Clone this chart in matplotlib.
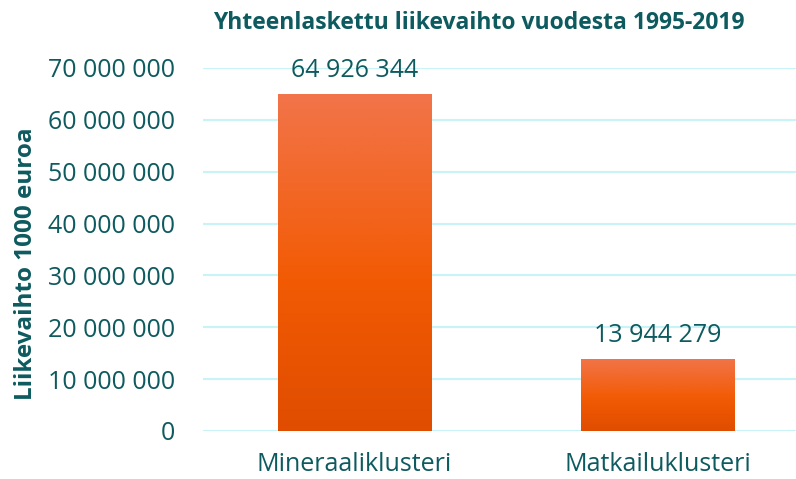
import numpy as np
import matplotlib
matplotlib.use("Agg")
import matplotlib.pyplot as plt
from matplotlib.colors import LinearSegmentedColormap

categories = ["Mineraaliklusteri", "Matkailuklusteri"]
values = [64926344, 13944279]
value_labels = ["64 926 344", "13 944 279"]
yticks = [0, 10000000, 20000000, 30000000, 40000000, 50000000, 60000000, 70000000]
ytick_labels = ["0", "10 000 000", "20 000 000", "30 000 000", "40 000 000",
                "50 000 000", "60 000 000", "70 000 000"]
title = "Yhteenlaskettu liikevaihto vuodesta 1995-2019"
ylabel = "Liikevaihto 1000 euroa"

plt.rcParams['font.family'] = ['Open Sans', 'DejaVu Sans']
TEXT = "#0D5A5F"
GRID = "#C8F3F7"

fig = plt.figure(figsize=(7.96, 4.79), dpi=100)
W, H = 796, 479
ax = fig.add_axes([203 / W, (H - 431) / H, (796 - 203) / W, (431 - 68) / H])

x = np.arange(len(categories))
bars = ax.bar(x, values, width=0.505, color="none", edgecolor="none", zorder=3)

cmap = LinearSegmentedColormap.from_list(
    "g", [(0.0, "#E04D00"), (0.45, "#F25B04"), (1.0, "#F2744A")])
grad = np.linspace(0, 1, 256).reshape(-1, 1)
for rect in bars:
    x0, y0 = rect.get_x(), rect.get_y()
    w, h = rect.get_width(), rect.get_height()
    im = ax.imshow(grad, cmap=cmap, origin="lower", aspect="auto",
                   extent=[x0, x0 + w, y0, y0 + h], zorder=3, interpolation="bilinear")
    im.set_clip_path(rect)

ax.set_xlim(-0.5, (796 - 354.5) / 303)
ax.set_ylim(0, 70000000)
ax.set_yticks(yticks)
ax.set_yticklabels(ytick_labels)
ax.set_xticks(x)
ax.set_xticklabels(categories)
ax.tick_params(axis="both", length=0, labelsize=18, colors=TEXT)
ax.tick_params(axis="y", pad=20)
ax.tick_params(axis="x", pad=15)
for s in ax.spines.values():
    s.set_visible(False)
ax.grid(axis="y", color=GRID, linewidth=1.5, zorder=0)
ax.set_axisbelow(True)

for xi, v, lab in zip(x, values, value_labels):
    ax.annotate(lab, (xi, v), xytext=(0, 8), textcoords="offset points",
                ha="center", va="bottom", fontsize=18, color=TEXT, zorder=4)

fig.text(479 / W, 1 - 23 / H, title, ha="center", va="center",
         fontsize=16.5, fontweight="bold", color=TEXT)
fig.text(26 / W, 1 - 264 / H, ylabel, ha="center", va="center", rotation=90,
         fontsize=17.5, fontweight="bold", color=TEXT)

fig.savefig("out.png", dpi=100)
